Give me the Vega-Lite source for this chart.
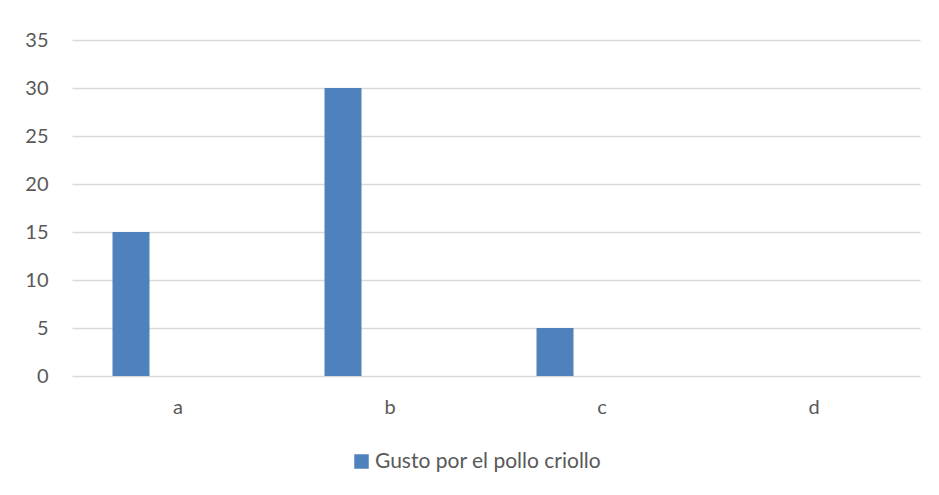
{
  "$schema": "https://vega.github.io/schema/vega-lite/v6.json",
  "width": 848,
  "height": 336,
  "autosize": "none",
  "padding": {"left": 72, "top": 40, "right": 19, "bottom": 119},
  "background": "white",
  "config": {
    "view": {"stroke": null},
    "font": "Lato",
    "axis": {"labelFont": "Lato", "labelColor": "#595959", "labelFontSize": 20},
    "legend": {"labelFont": "Lato", "labelColor": "#595959", "labelFontSize": 21}
  },
  "data": {
    "values": [
      {"respuesta": "a", "serie": "Gusto por el pollo criollo", "valor": 15},
      {"respuesta": "b", "serie": "Gusto por el pollo criollo", "valor": 30},
      {"respuesta": "c", "serie": "Gusto por el pollo criollo", "valor": 5},
      {"respuesta": "d", "serie": "Gusto por el pollo criollo", "valor": 0}
    ]
  },
  "mark": {"type": "bar", "width": 37, "xOffset": -47},
  "encoding": {
    "x": {
      "field": "respuesta",
      "type": "nominal",
      "scale": {"paddingInner": 0, "paddingOuter": 0},
      "axis": {"title": null, "labelAngle": 0, "domain": false, "ticks": false, "labelPadding": 21}
    },
    "y": {
      "field": "valor",
      "type": "quantitative",
      "scale": {"domain": [0, 35], "nice": false},
      "axis": {
        "title": null,
        "values": [0, 5, 10, 15, 20, 25, 30, 35],
        "domain": false,
        "ticks": false,
        "gridColor": "#D9D9D9",
        "gridWidth": 1.3,
        "labelPadding": 24
      }
    },
    "color": {
      "field": "serie",
      "type": "nominal",
      "scale": {"range": ["#4F81BD"]},
      "legend": {
        "title": null,
        "orient": "none",
        "legendX": 279,
        "legendY": 411,
        "symbolType": "square",
        "symbolSize": 210,
        "symbolStrokeWidth": 0,
        "labelOffset": 3,
        "labelLimit": 400
      }
    }
  }
}
